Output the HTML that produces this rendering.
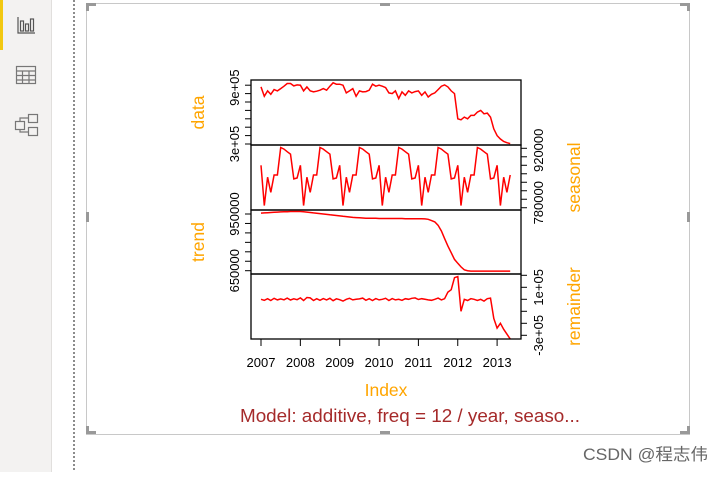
<!DOCTYPE html>
<html><head><meta charset="utf-8"><style>
html,body{margin:0;padding:0;background:#fff;}
body{width:721px;height:472px;overflow:hidden;position:relative;font-family:"Liberation Sans",sans-serif;}
</style></head><body>
<svg width="721" height="472" viewBox="0 0 721 472" xmlns="http://www.w3.org/2000/svg">
 <rect x="0" y="0" width="51" height="472" fill="#f3f2f1"/>
 <line x1="51.5" y1="0" x2="51.5" y2="472" stroke="#e1dfdd"/>
 <rect x="0" y="0" width="3" height="50" fill="#f2c811"/>
 <g fill="none" stroke="#555" stroke-width="1.2">
  <path d="M18 17 V33 H35"/><rect x="20.5" y="21" width="3" height="10"/><rect x="25.5" y="24" width="3" height="7"/><rect x="30.5" y="19" width="3" height="12"/>
 </g>
 <g fill="none" stroke="#777" stroke-width="1.2">
  <rect x="16.5" y="66.5" width="19" height="17"/><path d="M16.5 71 H35.5 M16.5 75.5 H35.5 M16.5 80 H35.5 M22.5 71 V83.5 M29 71 V83.5"/>
 </g>
 <g fill="none" stroke="#777" stroke-width="1.2">
  <rect x="28.5" y="114.5" width="9" height="8"/><rect x="15.5" y="121.5" width="9" height="8"/><rect x="28.5" y="127.5" width="9" height="8"/><path d="M20 121.5 V118 H28.5 M20 129.5 V132 H28.5"/>
 </g>
 <line x1="74" y1="0" x2="74" y2="472" stroke="#666" stroke-width="1.5" stroke-dasharray="2,2"/>
 <rect x="86.5" y="3.5" width="603" height="431" fill="none" stroke="#c8c8c8"/>
 <g fill="#999">
  <rect x="86" y="3" width="10" height="3"/><rect x="86" y="3" width="3" height="8"/>
  <rect x="680" y="3" width="10" height="3"/><rect x="687" y="3" width="3" height="8"/>
  <rect x="86" y="431" width="10" height="3"/><rect x="86" y="426" width="3" height="8"/>
  <rect x="680" y="431" width="10" height="3"/><rect x="687" y="426" width="3" height="8"/>
  <rect x="380" y="3" width="10" height="3"/><rect x="380" y="431" width="10" height="3"/>
  <rect x="86" y="212" width="3" height="10"/><rect x="687" y="212" width="3" height="10"/>
 </g>
 <g id="chart"></g>
 <text x="386" y="396" font-size="17.5" fill="#FFA500" text-anchor="middle">Index</text>
 <text x="240" y="422" font-size="18" fill="#A52A2A" textLength="340" lengthAdjust="spacingAndGlyphs">Model: additive, freq = 12 / year, seaso...</text>
 <text x="583" y="460" font-size="16.5" fill="#666" textLength="125" lengthAdjust="spacingAndGlyphs" font-family="Liberation Sans, Noto Sans CJK SC, sans-serif">CSDN @程志伟</text>
</svg>
<script>
const years=[2007,2008,2009,2010,2011,2012,2013];
const dataVals=[980000,868000,932000,892000,948000,932000,960000,988000,1020000,1020000,992000,1004000,
1000000,932000,980000,932000,920000,928000,940000,960000,940000,988000,1028000,1012000,
1012000,1000000,908000,932000,960000,868000,932000,920000,924000,940000,1012000,988000,
1000000,988000,972000,908000,900000,932000,840000,920000,880000,932000,908000,924000,
932000,880000,920000,860000,892000,908000,948000,988000,1004000,980000,932000,900000,
600000,588000,620000,600000,640000,640000,680000,700000,660000,668000,620000,480000,
400000,360000,330000,315000,305000];
const seasonalCycle=[880000,785000,852000,816000,857000,857000,922000,918000,912000,906000,848000,850000];
const trendVals=[955000,956000,957000,958000,959000,960000,961000,962000,962000,963000,963000,963000,
963000,962000,960000,958000,956000,954000,952000,950000,948000,946000,944000,942000,
940000,938000,936000,934000,932000,931000,930000,929000,928000,927000,927000,927000,
926000,926000,926000,926000,926000,926000,926000,926000,925000,925000,925000,925000,
925000,925000,924000,922000,915000,908000,890000,860000,820000,780000,745000,710000,
689000,670000,655000,650000,648000,648000,648000,648000,648000,648000,648000,648000,
648000,648000,648000,648000,648000];
const remainderVals=[0,-8000,5000,-10000,8000,-5000,3000,-4000,10000,-6000,4000,-3000,
12000,-10000,15000,12000,-10000,5000,-8000,6000,-5000,8000,-12000,4000,
-3000,-15000,0,8000,-5000,0,3000,10000,-8000,5000,-10000,6000,
-5000,0,8000,-10000,6000,-5000,0,-8000,5000,0,8000,12000,
-2000,5000,0,-5000,-8000,0,10000,-5000,5000,60000,80000,180000,
190000,-100000,0,-10000,5000,0,-10000,0,-15000,5000,10000,-160000,
-240000,-200000,-250000,-290000,-330000];
const ns='http://www.w3.org/2000/svg';
const g=document.getElementById('chart');
const X0=261,YPX=39.35;
const xOf=i=>X0+(i/12)*YPX;
function mk(t,a){const e=document.createElementNS(ns,t);for(const k in a)e.setAttribute(k,a[k]);g.appendChild(e);return e;}
const panels=[
 {name:'data',vals:dataVals,y0:144,v0:300000,ppu:8.4/100000,top:80,bot:145,side:'left',ticks:[1000000,900000,800000,700000,600000,500000,400000,300000],labels:[[900000,'9e+05'],[300000,'3e+05']],lshift:[-6,0]},
 {name:'seasonal',vals:dataVals.map((_,i)=>seasonalCycle[i%12]),y0:148.3,v0:920000,ppu:8.49/20000,top:145,bot:210,side:'right',ticks:[920000,900000,880000,860000,840000,820000,800000,780000],labels:[[920000,'920000'],[780000,'780000']],lshift:[2,-5]},
 {name:'trend',vals:trendVals,y0:270.7,v0:650000,ppu:9.45/50000,top:210,bot:274,side:'left',ticks:[950000,900000,850000,800000,750000,700000,650000],labels:[[950000,'950000'],[650000,'650000']],lshift:[0,0]},
 {name:'remainder',vals:remainderVals,y0:299.3,v0:0,ppu:12/100000,top:274,bot:339,side:'right',ticks:[200000,100000,0,-100000,-200000,-300000],labels:[[100000,'1e+05'],[-300000,'-3e+05']],lshift:[0,0]}
];
panels.forEach(p=>{
 const yOf=v=>p.y0-(v-p.v0)*p.ppu;
 let d='';p.vals.forEach((v,i)=>{d+=(i?'L':'M')+xOf(i).toFixed(1)+' '+yOf(v).toFixed(1);});
 const line=mk('path',{d:d,fill:'none',stroke:'#ff0000','stroke-width':1.5});
 
 
 const box=mk('rect',{x:251,y:p.top,width:270,height:p.bot-p.top,fill:'none',stroke:'#000','stroke-width':1.3});
 
 
 const xa=p.side==='left'?251:521,dir=p.side==='left'?-1:1;
 mk('line',{x1:xa,x2:xa,y1:yOf(p.ticks[0]),y2:yOf(p.ticks[p.ticks.length-1]),stroke:'#000'});
 p.ticks.forEach(v=>{const t=mk('line',{x1:xa,x2:xa+dir*6,y1:yOf(v),y2:yOf(v),stroke:'#000'});
  });
 p.labels.forEach(([v,s],k)=>{const lx=xa+dir*13,ly=yOf(v)+p.lshift[k];
  const t=mk('text',{x:lx,y:ly,'font-size':13,'text-anchor':'middle',transform:`rotate(-90 ${lx} ${ly})`,dy:p.side==='left'?1:9,fill:'#000'});
  t.textContent=s;});
 const tx=p.side==='left'?204:580,ty=(p.top+p.bot)/2;
 const title=mk('text',{x:tx,y:ty,'font-size':17.5,fill:'#FFA500','text-anchor':'middle',transform:`rotate(-90 ${tx} ${ty})`});
 title.textContent=p.name;
 
 
});
mk('line',{x1:X0,x2:X0+6*YPX,y1:339,y2:339,stroke:'#000'});
years.forEach((yr,k)=>{const x=X0+k*YPX;
 const t=mk('line',{x1:x,x2:x,y1:339,y2:346,stroke:'#000'});
 
 const l=mk('text',{x:x,y:367,'font-size':13,'text-anchor':'middle',fill:'#000'});
 l.textContent=yr;});
</script>
</body></html>
